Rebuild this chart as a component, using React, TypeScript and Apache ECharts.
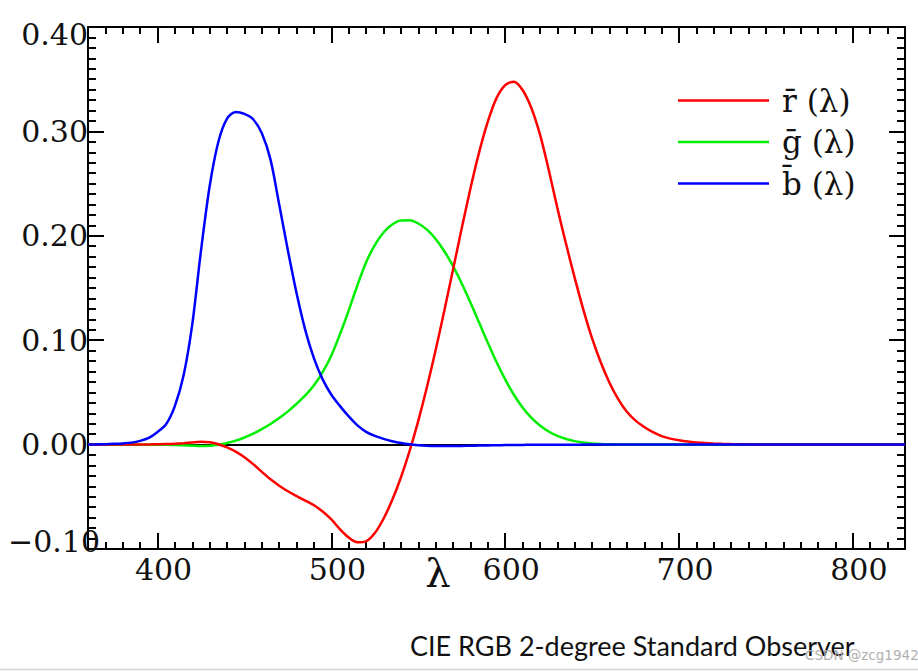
import React, { useEffect, useRef } from "react";
import * as echarts from "echarts";

const wavelengths = [
  360, 365, 370, 375, 380, 385, 390, 395, 400, 405, 410, 415, 420, 425, 430, 435,
  440, 445, 450, 455, 460, 465, 470, 475, 480, 485, 490, 495, 500, 505, 510, 515,
  520, 525, 530, 535, 540, 545, 550, 555, 560, 565, 570, 575, 580, 585, 590, 595,
  600, 605, 610, 615, 620, 625, 630, 635, 640, 645, 650, 655, 660, 665, 670, 675,
  680, 685, 690, 695, 700, 705, 710, 715, 720, 725, 730, 735, 740, 745, 750, 755,
  760, 765, 770, 775, 780, 785, 790, 795, 800, 805, 810, 815, 820, 825, 830,
];

const rBar = [
  0.0, 0.00001, 0.00001, 0.00002, 0.00003, 0.00005, 0.0001, 0.00017, 0.0003, 0.00047,
  0.00084, 0.00139, 0.00211, 0.00266, 0.00218, 0.00036, -0.00261, -0.00673, -0.01213,
  -0.01874, -0.02608, -0.03324, -0.03933, -0.04471, -0.04939, -0.05364, -0.05814,
  -0.06414, -0.07173, -0.0812, -0.08901, -0.09356, -0.09264, -0.08473, -0.07101,
  -0.05316, -0.03152, -0.00613, 0.02279, 0.05514, 0.0906, 0.1284, 0.16768, 0.20715,
  0.24526, 0.27989, 0.30928, 0.33184, 0.34429, 0.34756, 0.33971, 0.32265, 0.29708,
  0.26348, 0.22677, 0.19233, 0.15968, 0.12905, 0.10167, 0.07857, 0.05932, 0.04366,
  0.03149, 0.02294, 0.01687, 0.01187, 0.00819, 0.00572, 0.0041, 0.00291, 0.0021,
  0.00148, 0.00105, 0.00074, 0.00052, 0.00036, 0.00025, 0.00017, 0.00012, 0.00008,
  0.00006, 0.00004, 0.00003, 0.00002, 0.00001, 0, 0, 0, 0, 0, 0, 0, 0, 0, 0,
];

const gBar = [
  0, 0, 0, -0.00001, -0.00001, -0.00002, -0.00004, -0.00007, -0.00014, -0.00022,
  -0.00041, -0.0007, -0.0011, -0.00143, -0.00119, -0.00021, 0.00149, 0.00379, 0.00678,
  0.01046, 0.01485, 0.01977, 0.02538, 0.03183, 0.03914, 0.04713, 0.05689, 0.06948,
  0.08536, 0.10593, 0.1286, 0.15262, 0.17468, 0.19113, 0.20317, 0.21083, 0.21466,
  0.21487, 0.21178, 0.20588, 0.19702, 0.18522, 0.17087, 0.15429, 0.1361, 0.11686,
  0.09754, 0.07909, 0.06246, 0.04776, 0.03557, 0.02583, 0.01828, 0.01253, 0.00833,
  0.00537, 0.00334, 0.00199, 0.00116, 0.00066, 0.00037, 0.00021, 0.00011, 0.00006,
  0.00003, 0.00001, 0, 0, 0, 0, 0, 0, 0, 0, 0, 0, 0, 0, 0, 0, 0, 0, 0, 0, 0, 0, 0, 0,
  0, 0, 0, 0, 0, 0, 0,
];

const bBar = [
  0.0001, 0.0002, 0.00035, 0.0007, 0.00117, 0.00189, 0.00359, 0.00647, 0.01214, 0.01969,
  0.03707, 0.06637, 0.11541, 0.18575, 0.24769, 0.29012, 0.31228, 0.3186, 0.3167,
  0.31166, 0.29821, 0.27295, 0.22991, 0.18592, 0.14494, 0.10968, 0.08257, 0.06246,
  0.04776, 0.03688, 0.02698, 0.01842, 0.01221, 0.0083, 0.00549, 0.0032, 0.00146,
  0.00023, -0.00058, -0.00105, -0.0013, -0.00138, -0.00135, -0.00123, -0.00108,
  -0.00093, -0.00079, -0.00063, -0.00049, -0.00038, -0.0003, -0.00022, -0.00015,
  -0.00011, -0.00008, -0.00005, -0.00003, -0.00002, -0.00001, -0.00001, 0, 0, 0, 0, 0,
  0, 0, 0, 0, 0, 0, 0, 0, 0, 0, 0, 0, 0, 0, 0, 0, 0, 0, 0, 0, 0, 0, 0, 0, 0, 0, 0, 0,
  0, 0,
];

const seriesNames = ["r\u0304 (\u03bb)", "g\u0304 (\u03bb)", "b\u0304 (\u03bb)"];
const seriesColors = ["#ff0000", "#00ee00", "#0000ff"];

const xMajorTicks = [400, 500, 600, 700, 800];
const xMinorTicks: number[] = [];
for (let v = 370; v <= 820; v += 10) if (v % 100 !== 0) xMinorTicks.push(v);
const yMajorTicks = [-0.1, 0, 0.1, 0.2, 0.3, 0.4];
const yMinorTicks: number[] = [];
for (let i = -9; i <= 39; i++) if (i % 10 !== 0) yMinorTicks.push(i / 100);

const SERIF = "'DejaVu Serif', serif";
const TEXT = "#111";

export default function App() {
  const ref = useRef<HTMLDivElement>(null);
  useEffect(() => {
    if (!ref.current) return;
    const chart = echarts.init(ref.current, null, { renderer: "svg" });
    const line = { onZero: false, lineStyle: { color: "#000", width: 2 } };
    const xBase = { type: "value", min: 360, max: 830, splitLine: { show: false }, gridIndex: 0 };
    const yBase = { type: "value", min: -0.1, max: 0.4, splitLine: { show: false }, gridIndex: 0 };
    const tick = (vals: number[], len: number) => ({
      show: true,
      inside: true,
      length: len,
      customValues: vals,
      lineStyle: { color: "#000", width: 2 },
    });
    const hidden = { show: false, onZero: false };
    const mk = (arr: number[]) => wavelengths.map((w, i) => [w, arr[i]]);
    const lineSeries = (idx: number, arr: number[], z: number, extra: any = {}) => ({
      name: seriesNames[idx],
      type: "line",
      data: mk(arr),
      symbol: "none",
      showSymbol: false,
      smooth: 0.3,
      z,
      lineStyle: { color: seriesColors[idx], width: 2.5 },
      itemStyle: { color: seriesColors[idx] },
      ...extra,
    });
    const option: any = {
      animation: false,
      backgroundColor: "#fff",
      grid: { left: 88, right: 13, top: 27, bottom: 122, containLabel: false, outerBoundsMode: "none" },
      xAxis: [
        {
          ...xBase,
          position: "bottom",
          axisLine: { show: true, ...line },
          axisTick: tick(xMajorTicks, 16),
          axisLabel: {
            show: true,
            customValues: xMajorTicks,
            margin: 5,
            formatter: (v: number) => `{a|${v}}`,
            rich: { a: { fontSize: 30, fontFamily: SERIF, color: TEXT, padding: [0, 0, 0, 12] } },
          },
        },
        { ...xBase, position: "bottom", axisLine: hidden, axisTick: tick(xMinorTicks, 7), axisLabel: { show: false, customValues: xMinorTicks } },
        { ...xBase, position: "top", axisLine: { show: true, ...line }, axisTick: tick(xMajorTicks, 16), axisLabel: { show: false, customValues: xMajorTicks } },
        { ...xBase, position: "top", axisLine: hidden, axisTick: tick(xMinorTicks, 7), axisLabel: { show: false, customValues: xMinorTicks } },
      ],
      yAxis: [
        {
          ...yBase,
          position: "left",
          axisLine: { show: true, ...line },
          axisTick: tick(yMajorTicks, 16),
          axisLabel: {
            show: true,
            customValues: yMajorTicks,
            margin: 0,
            formatter: (v: number) => {
              const s = (v < -1e-9 ? "\u2212" : "") + Math.abs(v).toFixed(2);
              if (Math.abs(v - 0.4) < 1e-9) return `{t|${s}}`;
              if (Math.abs(v + 0.1) < 1e-9) return `{b|${s}}`;
              return `{m|${s}}`;
            },
            rich: {
              m: { fontSize: 30, fontFamily: SERIF, color: TEXT },
              t: { fontSize: 30, fontFamily: SERIF, color: TEXT, padding: [14, 0, 0, 0] },
              b: { fontSize: 30, fontFamily: SERIF, color: TEXT, padding: [0, -12, 16, 0] },
            },
          },
        },
        { ...yBase, position: "left", axisLine: hidden, axisTick: tick(yMinorTicks, 8), axisLabel: { show: false, customValues: yMinorTicks } },
        { ...yBase, position: "right", axisLine: { show: true, ...line }, axisTick: tick(yMajorTicks, 16), axisLabel: { show: false, customValues: yMajorTicks } },
        { ...yBase, position: "right", axisLine: hidden, axisTick: tick(yMinorTicks, 8), axisLabel: { show: false, customValues: yMinorTicks } },
      ],
      legend: {
        orient: "vertical",
        left: 673,
        top: 80,
        icon: "rect",
        itemWidth: 91,
        itemHeight: 2.5,
        itemGap: 10.5,
        data: seriesNames,
        textStyle: { fontFamily: SERIF, fontSize: 31, lineHeight: 28, color: TEXT, padding: [0, 0, 0, 8] },
      },
      series: [
        lineSeries(2, bBar, 3, {
          markLine: {
            silent: true,
            symbol: ["none", "none"],
            label: { show: false },
            lineStyle: { color: "#000", width: 2, type: "solid" },
            data: [{ yAxis: 0 }],
            z: 1,
          },
        }),
        lineSeries(1, gBar, 2),
        lineSeries(0, rBar, 2),
      ],
      graphic: [
        {
          type: "text",
          x: 438,
          y: 573,
          style: { text: "\u03bb", fontSize: 40, fontFamily: SERIF, fill: TEXT, align: "center", verticalAlign: "middle" },
        },
        {
          type: "text",
          x: 410,
          y: 645,
          style: { text: "CIE RGB 2-degree Standard Observer", fontSize: 27, fontFamily: "Lato, sans-serif", fill: TEXT, align: "left", verticalAlign: "middle" },
        },
        {
          type: "text",
          x: 805,
          y: 655,
          z: 10,
          style: { text: "CSDN @zcg1942", fontSize: 13.5, fontFamily: "'DejaVu Sans', sans-serif", fill: "#b0b0b0", align: "left", verticalAlign: "middle" },
        },
        {
          type: "line",
          shape: { x1: 0, y1: 669.5, x2: 918, y2: 669.5 },
          style: { stroke: "#d4d4d4", lineWidth: 1.5 },
        },
      ],
    };
    chart.setOption(option);
    return () => chart.dispose();
  }, []);
  return (
    <div
      ref={ref}
      style={{ position: "fixed", left: 0, top: 0, width: 918, height: 671, background: "#fff" }}
    />
  );
}
